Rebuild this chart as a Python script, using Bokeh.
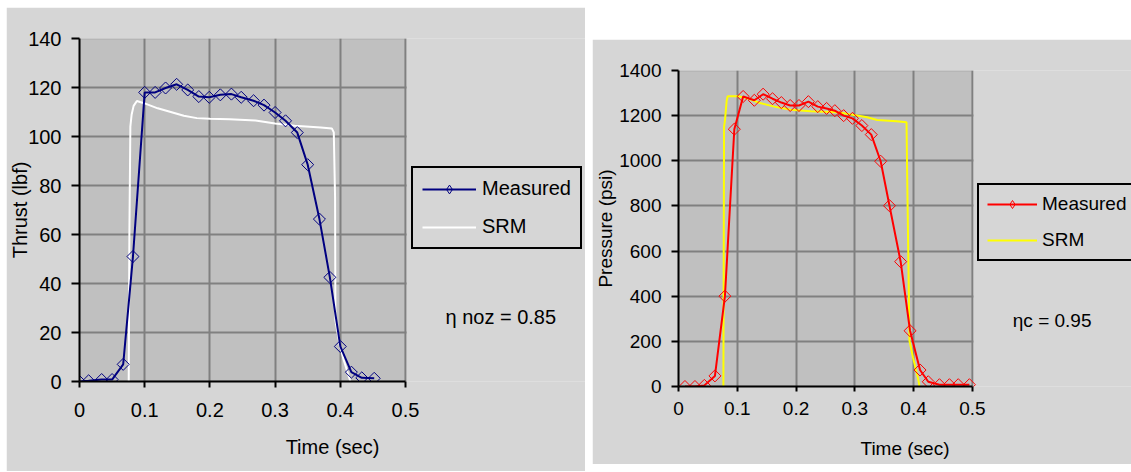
import math
from bokeh.plotting import figure
from bokeh.models import Legend, LegendItem, Label, FixedTicker, Range1d, Spacer, BoxAnnotation
from bokeh.layouts import row, column
from bokeh.embed import file_html
from bokeh.resources import INLINE

# ---------------- data: thrust chart ----------------
thrust_meas_t = [0, 0.014, 0.034, 0.05, 0.067, 0.082, 0.1, 0.116, 0.132, 0.149, 0.166, 0.183, 0.199,
                 0.216, 0.233, 0.248, 0.267, 0.283, 0.3, 0.316, 0.334, 0.35, 0.368, 0.384, 0.4, 0.417,
                 0.433, 0.452]
thrust_meas_v = [0, 0.3, 0.8, 0.8, 7, 51, 118, 118, 119.8, 121.3, 119, 116.3, 116, 117, 117.3, 116,
                 114.6, 112.8, 109.8, 106.4, 101.6, 88.5, 66.3, 42.5, 14.3, 3.8, 1.5, 1.3]
thrust_srm_t = [0.0755, 0.0765, 0.078, 0.080, 0.083, 0.088, 0.100, 0.120, 0.140, 0.160, 0.180, 0.200,
                0.230, 0.270, 0.300, 0.330, 0.370, 0.387, 0.390, 0.392, 0.3925, 0.399, 0.405, 0.4155]
thrust_srm_v = [0, 60, 104, 109, 112.5, 114.5, 113.5, 111.5, 110, 108.5, 107.5, 107.2, 107, 106.5,
                105.3, 104.4, 103.7, 103.3, 101.7, 75, 25, 15, 9, 0]

# ---------------- data: pressure chart ----------------
press_meas_t = [0.011, 0.028, 0.044, 0.062, 0.079, 0.095, 0.110, 0.129, 0.144, 0.160, 0.175, 0.190,
                0.205, 0.221, 0.237, 0.252, 0.266, 0.281, 0.296, 0.312, 0.328, 0.344, 0.359, 0.378,
                0.394, 0.411, 0.425, 0.444, 0.461, 0.476, 0.495]
press_meas_v = [0, 0, 5, 47, 400, 1140, 1285, 1268, 1295, 1275, 1258, 1245, 1245, 1262, 1240, 1232,
                1222, 1200, 1188, 1156, 1116, 998, 801, 553, 247, 73, 21, 8, 8, 8, 8]
press_srm_t = [0.0764, 0.0775, 0.079, 0.082, 0.0837, 0.102, 0.120, 0.137, 0.163, 0.191, 0.225, 0.270,
               0.299, 0.321, 0.338, 0.371, 0.388, 0.389, 0.393, 0.399, 0.4085, 0.410]
press_srm_v = [0, 1150, 1178, 1267, 1286, 1286, 1275, 1257, 1240, 1226, 1219, 1215, 1203, 1193, 1181,
               1175, 1171, 957, 203, 129, 25, 0]

x_ticks = [0, 0.1, 0.2, 0.3, 0.4, 0.5]
thrust_ticks = [0, 20, 40, 60, 80, 100, 120, 140]
press_ticks = [0, 200, 400, 600, 800, 1000, 1200, 1400]

FONT = "Liberation Sans"
PANEL = "#d6d6d6"
PLOT = "#c0c0c0"
GRID = "#808080"
X_MAX = 0.5


def make_fig(w, h, bl, bt, bb, plot_px, ymax, yticks, fs, ylab, xlab, x_over):
    # frame spans from the y axis to the right edge of the panel; the data area is 0..X_MAX
    fw = w - bl
    x_end = X_MAX * fw / plot_px
    p = figure(width=w, height=h, output_backend="svg", toolbar_location=None,
               x_range=Range1d(0, x_end), y_range=Range1d(0, ymax),
               min_border_left=bl, min_border_right=0, min_border_top=bt, min_border_bottom=bb)
    p.background_fill_color = PANEL
    p.border_fill_color = PANEL
    p.outline_line_color = None
    # grey plot area (0..X_MAX) with its grey outline, behind the grid
    p.add_layout(BoxAnnotation(left=0, right=X_MAX, fill_color=PLOT, fill_alpha=1,
                               line_color=GRID, line_width=2, level="image"))
    # panel colour to the right of the plot area, hiding the grid there
    p.add_layout(BoxAnnotation(left=X_MAX + 1.2 * x_end / fw, fill_color=PANEL, fill_alpha=1,
                               line_color=None, level="underlay"))
    p.xaxis.ticker = FixedTicker(ticks=x_ticks)
    p.yaxis.ticker = FixedTicker(ticks=yticks)
    p.xaxis.bounds = (0, X_MAX)
    if x_over:
        p.xaxis.major_label_overrides = x_over
    for g in (p.xgrid, p.ygrid):
        g.grid_line_color = GRID
        g.grid_line_width = 2
    for ax in (p.xaxis, p.yaxis):
        ax.axis_line_color = "black"
        ax.axis_line_width = 2
        ax.major_tick_line_color = "black"
        ax.major_tick_line_width = 2
        ax.minor_tick_line_color = None
        ax.major_tick_in = 0
        ax.major_label_text_font = FONT
        ax.major_label_text_font_size = f"{fs}px"
        ax.major_label_text_color = "black"
        ax.axis_label_text_font = FONT
        ax.axis_label_text_font_size = f"{fs}px"
        ax.axis_label_text_font_style = "normal"
        ax.axis_label_text_color = "black"
    p.xaxis.axis_label = xlab
    p.yaxis.axis_label = ylab
    return p


def style_legend(leg, fs, pad, gw, gh, standoff, spacing):
    leg.padding = pad
    leg.margin = 0
    leg.spacing = spacing
    leg.glyph_width = gw
    leg.glyph_height = gh
    leg.label_height = gh
    leg.label_standoff = standoff
    leg.label_text_font = FONT
    leg.label_text_font_size = f"{fs}px"
    leg.label_text_color = "black"
    leg.border_line_color = "black"
    leg.border_line_alpha = 1
    leg.border_line_width = 2
    leg.background_fill_color = PANEL
    leg.background_fill_alpha = 1
    leg.inactive_fill_alpha = 0


# ---------------- left: thrust ----------------
p1 = make_fig(579, 464, 73, 31, 90, 326, 140, thrust_ticks, 20, "Thrust (lbf)", "Time (sec)", {0: "0"})
p1.xaxis.major_tick_out = 6
p1.xaxis.major_label_standoff = 15
p1.xaxis.axis_label_standoff = 16
p1.yaxis.major_tick_out = 8
p1.yaxis.major_label_standoff = 10
p1.yaxis.axis_label_standoff = -6

r1s = p1.line(thrust_srm_t, thrust_srm_v, line_color="white", line_width=2)
r1l = p1.line(thrust_meas_t, thrust_meas_v, line_color="#000080", line_width=2)
p1.scatter(thrust_meas_t, thrust_meas_v, marker="square", angle=math.pi / 4, size=8.5,
           fill_color=None, line_color="#000080", line_width=1)
# legend symbol (hidden in the plot itself)
r1k = p1.scatter(thrust_meas_t, thrust_meas_v, marker="diamond", size=13, fill_color=None,
                 line_color="#000080", line_width=1, visible=False)
leg1 = Legend(items=[LegendItem(label="Measured", renderers=[r1l, r1k]),
                     LegendItem(label="SRM", renderers=[r1s])],
              location=(332, 132), orientation="vertical")
style_legend(leg1, 20, 9, 54, 22, 6, 15)
p1.add_layout(leg1)
p1.add_layout(Label(x=0.5613, y=26.2, text="η noz  = 0.85", text_font=FONT, text_font_size="20px",
                    text_baseline="middle", text_color="black"))

# ---------------- right: pressure ----------------
p2 = make_fig(539, 425, 85, 31, 78, 294.5, 1400, press_ticks, 19, "Pressure (psi)", "Time (sec)", None)
p2.xaxis.major_tick_out = 5
p2.xaxis.major_label_standoff = 10
p2.xaxis.axis_label_standoff = 20
p2.yaxis.major_tick_out = 7
p2.yaxis.major_label_standoff = 10
p2.yaxis.axis_label_standoff = 0

r2s = p2.line(press_srm_t, press_srm_v, line_color="#ffff00", line_width=2)
r2l = p2.line(press_meas_t, press_meas_v, line_color="#ff0000", line_width=2)
p2.scatter(press_meas_t, press_meas_v, marker="square", angle=math.pi / 4, size=8.5,
           fill_color=None, line_color="#ff0000", line_width=1)
r2k = p2.scatter(press_meas_t, press_meas_v, marker="diamond", size=13, fill_color=None,
                 line_color="#ff0000", line_width=1, visible=False)
leg2 = Legend(items=[LegendItem(label="Measured", renderers=[r2l, r2k]),
                     LegendItem(label="SRM", renderers=[r2s])],
              location=(299, 125), orientation="vertical")
style_legend(leg2, 19, 8, 50, 20, 5, 14)
p2.add_layout(leg2)
p2.add_layout(Label(x=0.5688, y=291, text="ηc = 0.95", text_font=FONT, text_font_size="19px",
                    text_baseline="middle", text_color="black"))

layout = row(Spacer(width=6), column(Spacer(height=7), p1), Spacer(width=7),
             column(Spacer(height=39), p2))
open("out.html", "w").write(file_html(layout, INLINE))
